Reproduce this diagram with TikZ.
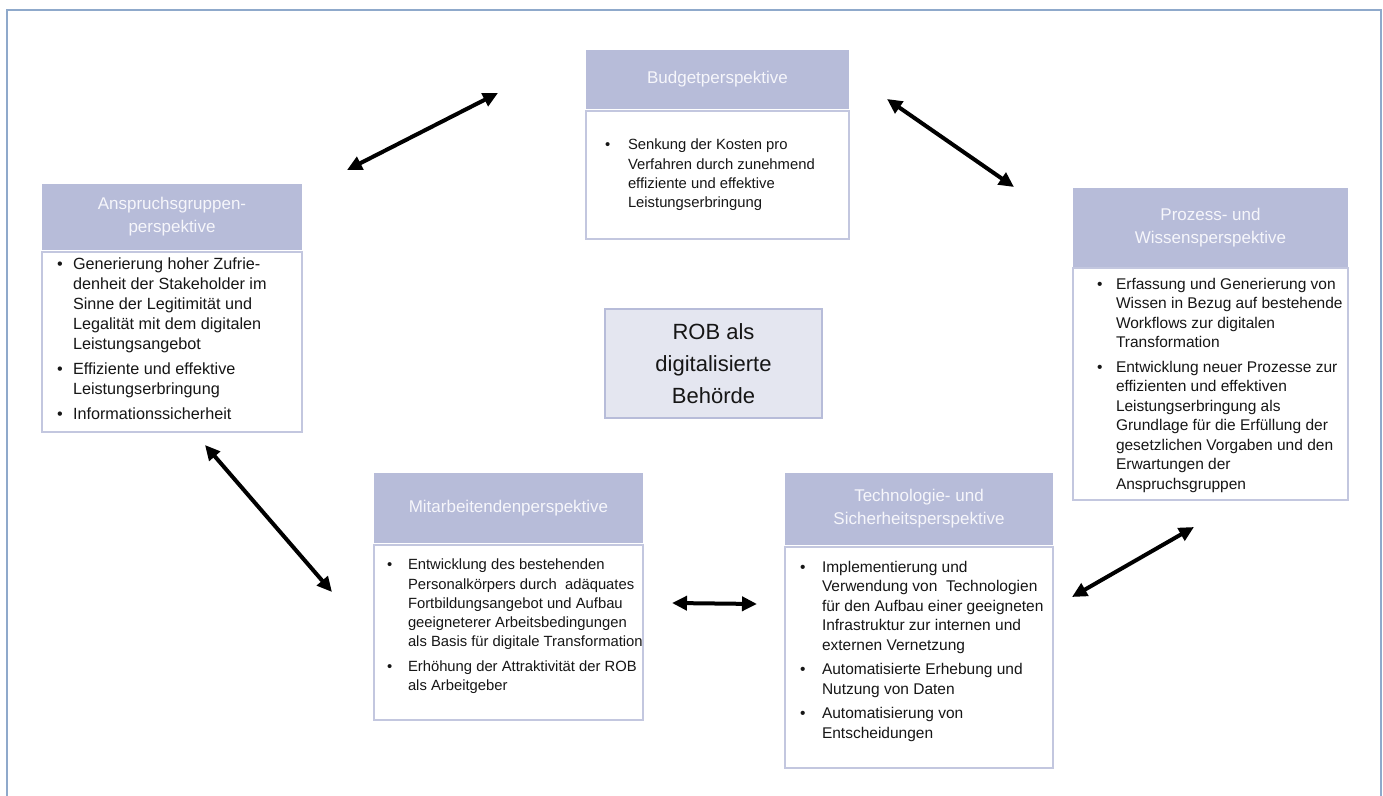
\documentclass[tikz,border=0pt]{standalone}
\usepackage{fontspec}
\setmainfont{Liberation Sans}
\usepackage{enumitem}
\usetikzlibrary{arrows.meta}

\definecolor{framecol}{HTML}{8FA9CB}
\definecolor{headcol}{HTML}{B7BCD9}
\definecolor{bodyline}{HTML}{C3C7DF}
\definecolor{robfill}{HTML}{E4E6F0}
\definecolor{headtext}{HTML}{F6F6FB}
\definecolor{bodytext}{HTML}{161616}

% width, height, top skip, bullet indent, text indent, items
\newcommand{\perspitems}[6]{%
  \makebox[#1][l]{\begin{minipage}[t][#2][t]{#1}\raggedright
  \vspace*{#3}%
  \begin{itemize}[label=\textbullet, leftmargin=#5, labelwidth=\dimexpr#5-#4\relax,
    labelsep=0pt, align=left, itemsep=2.5pt, topsep=0pt, parsep=0pt,
    partopsep=0pt, rightmargin=-6pt]
  #6
  \end{itemize}
  \end{minipage}}}

\tikzset{
  head/.style={fill=headcol, draw=none, text=headtext, align=center,
    font=\fontsize{8.5}{11.5}\selectfont, inner sep=0pt, outer sep=0pt, anchor=north west},
  body/.style={draw=bodyline, line width=0.7pt, fill=white, text=bodytext,
    font=\fontsize{7.4}{9.65}\selectfont, inner sep=0pt, outer sep=0pt, anchor=north west},
  body large/.style={body, font=\fontsize{7.75}{9.75}\selectfont},
  center box/.style={fill=robfill, draw=headcol, line width=0.6pt, text=bodytext,
    align=center, font=\fontsize{11}{16}\selectfont, inner sep=0pt,
    minimum width=108.5pt, minimum height=54.5pt},
  both ways/.style={{Triangle[length=7.5pt,width=7pt]}-{Triangle[length=7.5pt,width=7pt]},
    line width=2pt, black}
}

\begin{document}
\begin{tikzpicture}[x=0.5pt,y=-0.5pt]
  \useasboundingbox (0,0) rectangle (1383,796);
  \draw[framecol, line width=1pt] (7,796) -- (7,10) -- (1381,10) -- (1381,796);

  % Budget
  \node[head, minimum width=131.5pt, minimum height=29.5pt] (budgethead) at (586,50)
    {Budgetperspektive};
  \node[body] (budgetbody) at (586,111) {\perspitems{131.5pt}{64pt}{14pt}{9.5pt}{21pt}{%
    \item Senkung der Kosten pro\\ Verfahren durch zunehmend\\ effiziente und effektive\\ Leistungserbringung}};

  % Anspruchsgruppen
  \node[head, minimum width=130pt, minimum height=33pt] (anspruchhead) at (42,184)
    {Anspruchsgruppen-\\perspektive};
  \node[body, font=\fontsize{8.1}{10}\selectfont] (anspruchbody) at (42,252)
    {\perspitems{130pt}{90pt}{3pt}{7.5pt}{15.5pt}{%
    \item Generierung hoher Zufrie-\\ denheit der Stakeholder im\\ Sinne der Legitimität und\\ Legalität mit dem digitalen\\ Leistungsangebot
    \item Effiziente und effektive\\ Leistungserbringung
    \item Informationssicherheit}};

  % Prozess und Wissen
  \node[head, minimum width=137.5pt, minimum height=39.5pt] (prozesshead) at (1073,188)
    {Prozess- und\\Wissensperspektive};
  \node[body large] (prozessbody) at (1073,268) {\perspitems{137.5pt}{116pt}{5pt}{12pt}{21.5pt}{%
    \item Erfassung und Generierung von\\ Wissen in Bezug auf bestehende\\ Workflows zur digitalen\\ Transformation
    \item Entwicklung neuer Prozesse zur\\ effizienten und effektiven\\ Leistungserbringung als\\ Grundlage für die Erfüllung der\\ gesetzlichen Vorgaben und den\\ Erwartungen der\\ Anspruchsgruppen}};

  % Mitarbeitende
  \node[head, minimum width=134.5pt, minimum height=35pt] (mitarbeithead) at (374,473)
    {Mitarbeitendenperspektive};
  \node[body] (mitarbeitbody) at (374,545) {\perspitems{134.5pt}{87.5pt}{7pt}{6.5pt}{17pt}{%
    \item Entwicklung des bestehenden\\ Personalkörpers durch\ \ adäquates\\ Fortbildungsangebot und Aufbau\\ geeigneterer Arbeitsbedingungen\\ als Basis für digitale Transformation
    \item Erhöhung der Attraktivität der ROB\\ als Arbeitgeber}};

  % Technologie und Sicherheit
  \node[head, minimum width=134pt, minimum height=36pt] (technikhead) at (785,473)
    {Technologie- und\\Sicherheitsperspektive};
  \node[body large] (technikbody) at (785,547) {\perspitems{134pt}{110.5pt}{7pt}{7.5pt}{18.5pt}{%
    \item Implementierung und\\ Verwendung von\ \ Technologien\\ für den Aufbau einer geeigneten\\ Infrastruktur zur internen und\\ externen Vernetzung
    \item Automatisierte Erhebung und\\ Nutzung von Daten
    \item Automatisierung von\\ Entscheidungen}};

  % Mitte
  \node[center box] (rob) at (713.5,363.5) {ROB als\\digitalisierte\\Behörde};

  % Pfeile
  \coordinate (anspruchtop) at (347,170);
  \coordinate (budgetleft) at (498,93);
  \coordinate (budgetright) at (887,99);
  \coordinate (prozesstop) at (1014,187);
  \coordinate (anspruchlow) at (205,445);
  \coordinate (mitarbeitleft) at (332,592);
  \coordinate (mitarbeitright) at (672,603);
  \coordinate (technikleft) at (757,604);
  \coordinate (technikright) at (1072,597);
  \coordinate (prozesslow) at (1194,527);

  \draw[both ways] (anspruchtop) -- (budgetleft);
  \draw[both ways] (budgetright) -- (prozesstop);
  \draw[both ways] (anspruchlow) -- (mitarbeitleft);
  \draw[both ways] (mitarbeitright) -- (technikleft);
  \draw[both ways] (technikright) -- (prozesslow);
\end{tikzpicture}
\end{document}
